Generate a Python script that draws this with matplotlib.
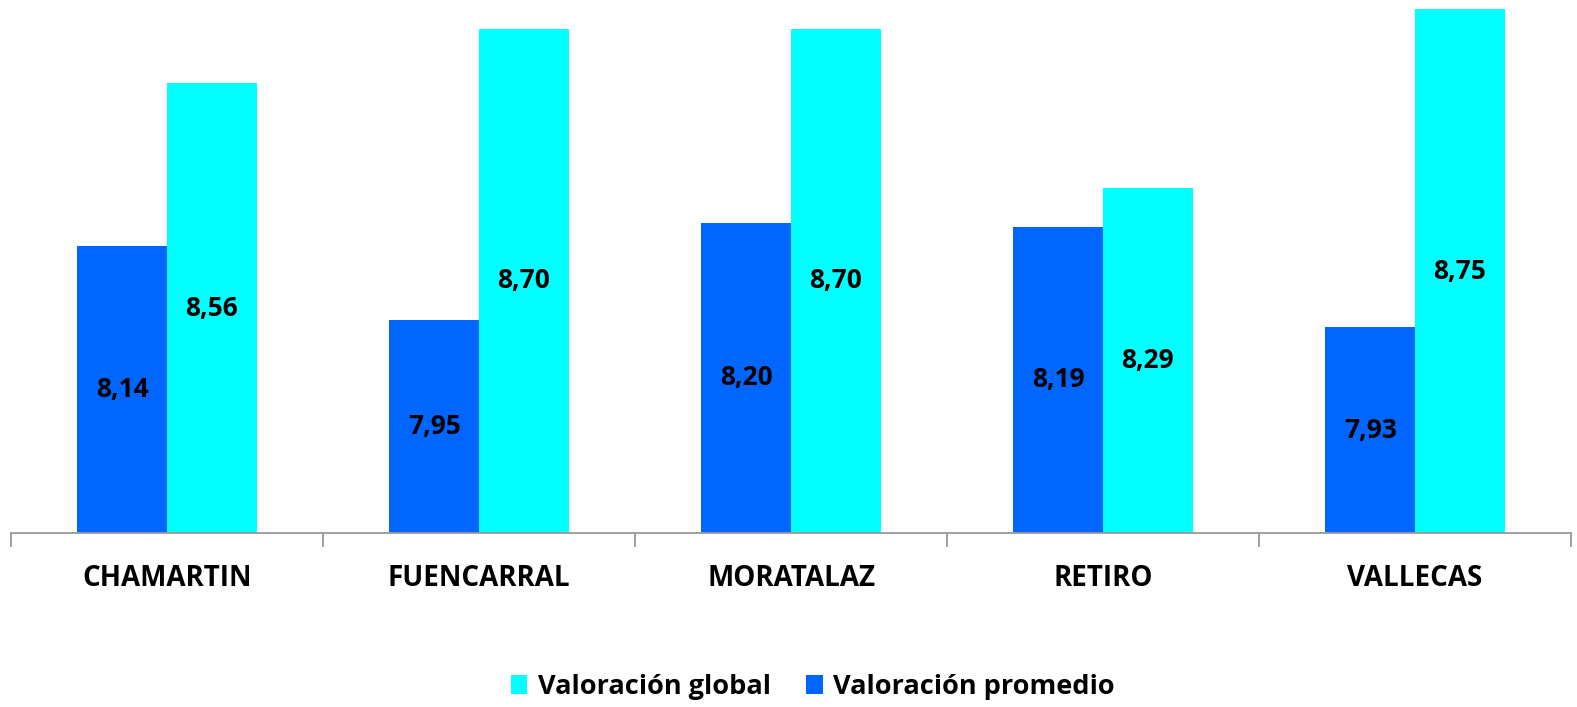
import matplotlib
matplotlib.use("Agg")
import matplotlib.pyplot as plt
from matplotlib.patches import Patch
import numpy as np

categories = ["CHAMARTIN", "FUENCARRAL", "MORATALAZ", "RETIRO", "VALLECAS"]
valoracion_promedio = [8.14, 7.95, 8.20, 8.19, 7.93]
valoracion_global = [8.56, 8.70, 8.70, 8.29, 8.75]

color_promedio = "#0066FF"
color_global = "#00FFFF"
font = ["Open Sans", "DejaVu Sans"]

W, H = 1577, 707
fig = plt.figure(figsize=(W / 100, H / 100), dpi=100)
x0, x1, y_base = 11, 1571, 533
ax = fig.add_axes([x0 / W, 1 - y_base / H, (x1 - x0) / W, y_base / H])

ymin = 7.4
ymax = ymin + y_base / 387.8
x = np.arange(len(categories))
bw = 0.287

ax.bar(x - bw / 2, valoracion_promedio, width=bw, color=color_promedio, bottom=0)
ax.bar(x + bw / 2, valoracion_global, width=bw, color=color_global, bottom=0)
ax.set_ylim(ymin, ymax)
ax.set_xlim(-0.5, len(categories) - 0.5)

def fmt(v):
    return f"{v:.2f}".replace(".", ",")

for xi, v in zip(x, valoracion_promedio):
    ax.text(xi - bw / 2, (ymin + v) / 2, fmt(v), ha="center", va="center",
            fontsize=19, fontweight="bold", family=font, color="black")
for xi, v in zip(x, valoracion_global):
    ax.text(xi + bw / 2, (ymin + v) / 2, fmt(v), ha="center", va="center",
            fontsize=19, fontweight="bold", family=font, color="black")

for s in ["top", "right", "left"]:
    ax.spines[s].set_visible(False)
ax.spines["bottom"].set_color("#999999")
ax.spines["bottom"].set_linewidth(1.3)
ax.set_yticks([])

# ticks between categories, labels centred under each group
ax.set_xticks(np.arange(-0.5, len(categories)), minor=False)
ax.set_xticklabels([])
ax.tick_params(axis="x", which="major", length=10, width=1.3, color="#999999")
ax.set_xticks(x, minor=True)
ax.set_xticklabels(categories, minor=True, fontsize=20, fontweight="bold", family=font)
ax.tick_params(axis="x", which="minor", length=0, pad=22)

handles = [Patch(facecolor=color_global, label="Valoración global"),
           Patch(facecolor=color_promedio, label="Valoración promedio")]
fig.legend(handles=handles, loc="center", bbox_to_anchor=(813 / W, 1 - 687 / H),
           ncol=2, frameon=False, prop={"family": font, "weight": "bold", "size": 19.5},
           handlelength=0.6, handleheight=0.65, handletextpad=0.4, columnspacing=1.3)

fig.savefig("out.png", dpi=100)
